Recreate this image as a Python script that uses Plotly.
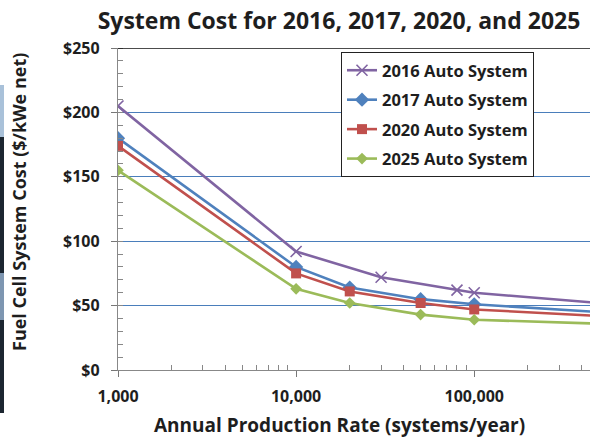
import plotly.graph_objects as go

# Annual production rate (systems/year) and system cost ($/kWe net)
rate_2016 = [1000, 10000, 30000, 80000, 100000, 500000]
cost_2016 = [205, 92, 72, 62, 60, 52]

rate_2017 = [1000, 10000, 20000, 50000, 100000, 500000]
cost_2017 = [180, 80, 64, 55, 51, 45]

rate_2020 = [1000, 10000, 20000, 50000, 100000, 500000]
cost_2020 = [174, 75, 61, 52, 47, 42]

rate_2025 = [1000, 10000, 20000, 50000, 100000, 500000]
cost_2025 = [155, 63, 52, 43, 39, 36]

x_tick_vals = [1000, 10000, 100000]
x_tick_text = ["1,000", "10,000", "100,000"]
y_tick_vals = [0, 50, 100, 150, 200, 250]
y_tick_text = ["$0", "$50", "$100", "$150", "$200", "$250"]

FONT = "Open Sans"
TXT = "#1e1e1e"

# plotting area in pixels: left 118, width 472, bottom 370, height 322
L, W, B, H = 118, 472, 370, 322


def px_x(p):
    return (p - L) / W


def px_y(p):
    return (B - p) / H


series = [
    ("2016 Auto System", rate_2016, cost_2016, "#8064A2",
     dict(symbol="x-thin", size=11, line=dict(width=1.6, color="#8064A2"))),
    ("2017 Auto System", rate_2017, cost_2017, "#4F81BD",
     dict(symbol="diamond", size=11)),
    ("2020 Auto System", rate_2020, cost_2020, "#C0504D",
     dict(symbol="square", size=10)),
    ("2025 Auto System", rate_2025, cost_2025, "#9BBB59",
     dict(symbol="diamond", size=9)),
]

fig = go.Figure()
for name, xs, ys, col, mk in series:
    mk = dict(mk)
    mk.setdefault("color", col)
    fig.add_trace(go.Scatter(
        x=xs, y=ys, name="<b>%s</b>" % name, legendgroup=name,
        mode="lines+markers",
        line=dict(color=col, width=2.6), marker=mk,
    ))

minor_x = [m * 10 ** e for e in (3, 4, 5) for m in range(2, 10)]

fig.update_layout(
    width=590, height=440,
    margin=dict(l=L, r=590 - L - W, t=B - H, b=440 - B),
    paper_bgcolor="white", plot_bgcolor="white",
    font=dict(family=FONT, color=TXT),
    title=dict(text="<b>System Cost for 2016, 2017, 2020, and 2025</b>",
               x=339 / 590, xanchor="center", y=1 - 21 / 440, yanchor="middle",
               font=dict(size=23, family=FONT, color=TXT)),
    showlegend=True,
    legend=dict(x=px_x(341), xanchor="left", y=px_y(52), yanchor="top",
                bgcolor="white", bordercolor="#222222", borderwidth=1,
                font=dict(size=16.5, family=FONT, color=TXT),
                itemwidth=30, tracegroupgap=5),
)

fig.update_xaxes(
    type="log", range=[3, 5.65],
    tickvals=x_tick_vals, ticktext=["<b>%s</b>" % t for t in x_tick_text],
    tickfont=dict(size=16, family=FONT, color=TXT),
    ticks="outside", ticklen=6, tickcolor="#777777",
    ticklabelstandoff=6,
    showline=True, linecolor="#888888", linewidth=1.3,
    showgrid=False, zeroline=False,
    minor=dict(tickvals=minor_x, ticks="inside", ticklen=5,
               tickcolor="#888888", showgrid=False),
)

fig.update_yaxes(
    range=[0, 250],
    tickvals=y_tick_vals, ticktext=["<b>%s</b>" % t for t in y_tick_text],
    tickfont=dict(size=16, family=FONT, color=TXT),
    ticks="outside", ticklen=6, tickcolor="#777777",
    ticklabelstandoff=8,
    showline=True, linecolor="#888888", linewidth=1.3,
    showgrid=True, gridcolor="#4A7EBB", gridwidth=1.3,
    zeroline=False,
    minor=dict(dtick=10, ticks="inside", ticklen=5,
               tickcolor="#888888", showgrid=False),
)

# axis titles placed as annotations
fig.add_annotation(text="<b>Annual Production Rate (systems/year)</b>",
                   xref="paper", yref="paper", x=px_x(339), y=px_y(425),
                   xanchor="center", yanchor="middle", showarrow=False,
                   font=dict(size=19, family=FONT, color=TXT))
fig.add_annotation(text="<b>Fuel Cell System Cost ($/kWe net)</b>",
                   xref="paper", yref="paper", x=px_x(19), y=px_y(202),
                   xanchor="center", yanchor="middle", showarrow=False,
                   textangle=-90,
                   font=dict(size=18, family=FONT, color=TXT))

# dark frame line along the top of the plotting area
fig.add_shape(type="line", xref="paper", yref="y", x0=0, x1=1, y0=250, y1=250,
              line=dict(color="#111111", width=1.6), layer="above")

# narrow band along the left edge of the page
band = [(85, 137, "#a9c1d9"), (137, 273, "#1c2631"),
        (273, 320, "#7e96b1"), (320, 413, "#1c2631")]
for top, bottom, colr in band:
    fig.add_shape(type="rect", xref="paper", yref="paper",
                  x0=px_x(0), x1=px_x(4), y0=px_y(bottom), y1=px_y(top),
                  line=dict(width=0), fillcolor=colr, layer="above")

fig.write_html("out.html")
